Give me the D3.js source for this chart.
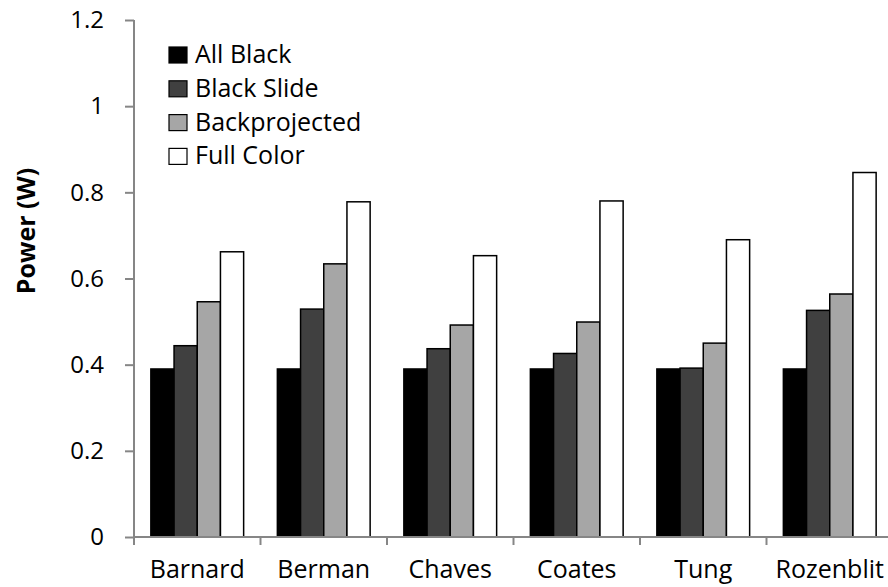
<!DOCTYPE html>
<html>
<head>
<meta charset="utf-8">
<script src="https://cdn.jsdelivr.net/npm/d3@7"></script>
<style>
  html, body { margin: 0; padding: 0; background: #fff; }
  svg { display: block; overflow: hidden; }
  text { font-family: "Open Sans", "Noto Sans", sans-serif; fill: #000; }
</style>
</head>
<body>
<svg id="chart" width="888" height="587"></svg>
<script>
// Power draw per scene, for four display modes
const categories = ["Barnard", "Berman", "Chaves", "Coates", "Tung", "Rozenblit"];
const seriesNames = ["All Black", "Black Slide", "Backprojected", "Full Color"];
const allBlack     = [0.390, 0.390, 0.390, 0.390, 0.390, 0.390];
const blackSlide   = [0.444, 0.529, 0.437, 0.426, 0.392, 0.526];
const backprojected = [0.546, 0.634, 0.492, 0.499, 0.450, 0.564];
const fullColor    = [0.662, 0.778, 0.653, 0.780, 0.690, 0.846];
const yTicks = [0, 0.2, 0.4, 0.6, 0.8, 1, 1.2];
const seriesFill = ["#000000", "#404040", "#a6a6a6", "#ffffff"];

const seriesValues = [allBlack, blackSlide, backprojected, fullColor];

const svg = d3.select("#chart");
const axisColor = "#868686";

const plotLeft = 134, plotRight = 893, plotTop = 20, plotBottom = 537;

const x0 = d3.scaleBand().domain(categories).range([plotLeft, plotRight]).paddingInner(0).paddingOuter(0);
const x1 = d3.scaleBand().domain(seriesNames).range([0, x0.bandwidth()]).paddingInner(0).paddingOuter(0.727);
const y = d3.scaleLinear().domain([0, 1.2]).range([plotBottom, plotTop]);
const color = d3.scaleOrdinal().domain(seriesNames).range(seriesFill);

// Bars
const rows = categories.map((c, i) => ({
  cat: c,
  vals: seriesNames.map((s, j) => ({ s, v: seriesValues[j][i] }))
}));

const groups = svg.append("g").selectAll("g")
  .data(rows).join("g")
  .attr("transform", d => `translate(${x0(d.cat)},0)`);

groups.selectAll("rect")
  .data(d => d.vals).join("rect")
  .attr("x", d => x1(d.s))
  .attr("y", d => y(d.v))
  .attr("width", x1.bandwidth())
  .attr("height", d => y(0) - y(d.v))
  .attr("fill", d => color(d.s))
  .attr("stroke", "#000")
  .attr("stroke-width", 1.5);

// Y axis
const yAxis = d3.axisLeft(y).tickValues(yTicks).tickSize(9).tickPadding(21)
  .tickFormat(d => d3.format("")(+d.toFixed(1)));
const gy = svg.append("g").attr("transform", `translate(${plotLeft},0)`).call(yAxis);
gy.select(".domain").attr("stroke", axisColor).attr("stroke-width", 2).attr("d", `M0,${plotTop}V${plotBottom}`);
gy.selectAll(".tick line").attr("stroke", axisColor).attr("stroke-width", 2);
gy.selectAll(".tick text").style("font-size", "24px").attr("fill", "#000");

// X axis with ticks between categories
const gx = svg.append("g").attr("transform", `translate(0,${plotBottom})`);
gx.append("line").attr("x1", plotLeft).attr("x2", 888).attr("y1", 0).attr("y2", 0)
  .attr("stroke", axisColor).attr("stroke-width", 2);
const boundaries = categories.map(c => x0(c));
gx.selectAll("line.tk").data(boundaries).join("line").attr("class", "tk")
  .attr("x1", d => d).attr("x2", d => d).attr("y1", 0).attr("y2", 8)
  .attr("stroke", axisColor).attr("stroke-width", 2);
gx.selectAll("text").data(categories).join("text")
  .attr("x", d => x0(d) + x0.bandwidth() / 2)
  .attr("y", 41)
  .attr("text-anchor", "middle")
  .style("font-size", "25px")
  .text(d => d);

// Y axis title
svg.append("text")
  .attr("transform", "translate(35,231) rotate(-90)")
  .attr("text-anchor", "middle")
  .style("font-size", "25px")
  .style("font-weight", "bold")
  .text("Power (W)");

// Legend
const legend = svg.append("g").attr("transform", "translate(169,47)");
const li = legend.selectAll("g").data(seriesNames).join("g")
  .attr("transform", (d, i) => `translate(0,${i * 33.8})`);
li.append("rect").attr("width", 18).attr("height", 16)
  .attr("fill", d => color(d)).attr("stroke", "#000").attr("stroke-width", 1.2);
li.append("text").attr("x", 26).attr("y", 16).style("font-size", "25px").text(d => d);
</script>
</body>
</html>
